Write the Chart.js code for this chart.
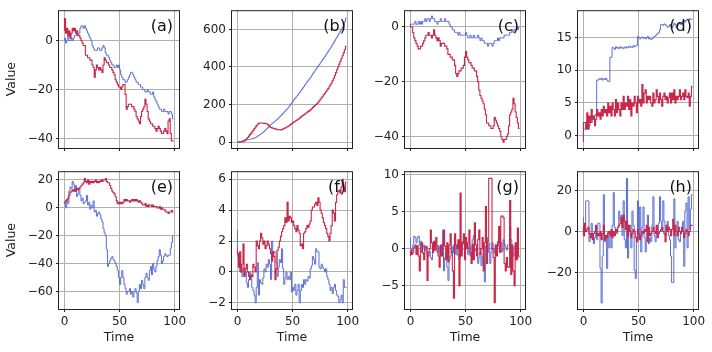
<!DOCTYPE html>
<html>
<head>
<meta charset="utf-8">
<script src="https://cdn.jsdelivr.net/npm/chart.js@4.4.0/dist/chart.umd.min.js"></script>
<style>
  html, body { margin: 0; padding: 0; background: #fff; }
  #fig { position: relative; width: 712px; height: 352px; overflow: hidden; }
  #fig canvas { position: absolute; }
</style>
</head>
<body>
<div id="fig"></div>
<script>
// time index, shared by every panel
const time = Array.from({length: 100}, (_, i) => i);
const xTicks = [0, 50, 100];
const panelLabels = ['(a)', '(b)', '(c)', '(d)', '(e)', '(f)', '(g)', '(h)'];

// (a)
const aBlue = [0,1,-1,0,2,0,0,1,0,1, 2,2,3,2,3,5,6,6,5,6, 5,4,3,2,1,0,-2,-3,-4,-4,
  -4,-3,-3,-4,-4,-3,-2,-3,-5,-6, -6,-7,-8,-9,-10,-10,-11,-11,-10,-11,
  -10,-12,-14,-15,-16,-16,-17,-17,-16,-15, -14,-13,-13,-14,-15,-16,-17,-17,-18,-18,
  -19,-19,-20,-20,-21,-21,-20,-21,-21,-22, -22,-21,-23,-24,-25,-26,-27,-28,-28,-29,
  -29,-28,-29,-29,-29,-30,-29,-29,-30,-32];
const aRed = [4,9,3,5,2,4,1,3,5,4, 5,3,4,2,2,1,0,-1,-2,-2, -6,-6,-7,-7,-8,-8,-10,-11,-15,-12,
  -10,-11,-12,-11,-12,-13,-10,-7,-8,-9, -9,-10,-11,-11,-12,-13,-14,-16,-17,-18,
  -19,-19,-20,-19,-18,-18,-22,-28,-27,-26, -26,-26,-27,-27,-28,-29,-31,-32,-33,-34,
  -31,-29,-28,-27,-24,-26,-29,-32,-33,-34, -34,-35,-35,-36,-37,-36,-35,-36,-37,-38,
  -38,-37,-36,-37,-38,-33,-32,-38,-41,-41];

// (b)
const bBlue = [0,1,2,3,4,5,10,10,11,12, 13,14,15,17,18,20,22,25,28,32, 36,40,44,48,53,58,64,70,76,82,
  88,94,99,104,108,113,118,123,129,135, 141,147,153,160,166,172,178,186,194,202,
  210,218,226,234,241,248,256,264,272,280, 288,296,305,314,322,330,337,345,355,364,
  372,380,389,398,406,414,422,431,440,448, 456,465,474,483,492,501,510,520,530,540,
  550,560,570,580,590,600,612,624,640,660];
const bRed = [0,0,0,1,2,3,5,8,12,18, 25,32,40,47,55,63,72,80,88,95, 100,102,102,102,101,100,100,98,94,88,
  82,78,76,74,72,70,68,67,66,66, 65,67,70,73,76,79,82,86,90,95,
  99,103,107,111,115,119,123,128,133,138, 142,146,150,155,160,164,168,172,178,185,
  190,195,200,206,212,220,228,236,244,252, 260,268,276,285,295,305,315,328,340,355,
  370,385,400,415,430,445,460,475,492,510];

// (c)
const cBlue = [0,1,1,1,1,2,1,1,2,1, 2,1,2,2,3,2,3,3,2,3, 4,3,3,2,2,1,2,2,3,2,
  2,2,3,2,2,2,1,0,0,-1, -1,-2,-2,-2,-3,-2,-3,-3,-3,-3,
  -3,-2,-3,-4,-4,-3,-4,-4,-3,-4, -4,-4,-3,-4,-5,-4,-5,-5,-6,-6,
  -6,-7,-6,-6,-6,-7,-6,-5,-5,-5, -4,-5,-4,-4,-4,-4,-3,-3,-3,-3,
  -3,-2,-2,-1,-2,-1,-1,0,-1,0];
const cRed = [1,0,0,-2,-4,-5,-6,-7,-8,-8, -7,-7,-6,-5,-4,-3,-3,-2,-3,-3, -4,-3,-1,-3,-4,-5,-4,-5,-7,-6,
  -6,-6,-7,-7,-8,-10,-10,-11,-11,-12, -12,-14,-17,-18,-17,-16,-16,-15,-15,-14,
  -11,-9,-11,-12,-13,-13,-14,-15,-15,-16, -16,-18,-20,-23,-25,-26,-27,-28,-30,-32,
  -35,-35,-36,-36,-37,-37,-36,-33,-34,-35, -36,-37,-38,-40,-41,-42,-41,-41,-40,-39,
  -36,-32,-31,-30,-26,-28,-31,-33,-35,-37];

// (d)
const dBlue = [0,1,1,1,1,1,1.5,2,2,2.5, 3,3,3.3,8.5,8.5,8.7,8.6,8.8,8.5,8.7,
  8.6,8.8,8.5,8.3,8.3,12,12,13.5,13.4,13.2, 13.6,13.4,13.5,13.3,13.6,13.4,13.5,13.3,13.5,13.6,
  13.4,13.5,13.7,13.5,13.6,13.5,13.8,13.6,13.7,13.8, 15.2,15,14.8,15,15.1,14.9,15,14.8,15,15.2,
  14.8,14.9,14.7,14.8,15,15.2,15.3,15.5,15.6,15.8, 16.2,17,17,16.9,17.1,17,16.8,16.6,16.7,17,
  16.8,16.5,16.8,17.2,17,16.5,16.8,17.1,17.3,17, 17.2,17.5,17.6,17.4,17.7,17.8,17.6,17.9,17.8,17.8];
const dRed = [-1,2,2,1,3.5,1,3,2,4,2.5, 3,1.5,2.5,4,3,3.5,2.5,4,3,4.5, 3.5,4,3,5,3.5,4.5,3,5,4,3,
  5.5,3.5,5,4,3,5,4,6,4,5, 4.5,6,4,5.5,3,5,4.5,6,5,3.5,
  6,5,5.5,4.5,7.8,5,6.5,7,5,6, 5.5,6,5,4.5,6.5,5,5.5,7,6,5,
  6.5,5.5,4.5,6,6.5,5.5,6,5,5.8,6.5, 5,6.5,5.5,7,5,6,5.5,6,7,5.5,
  6,6.5,5.5,7,6,5.8,6.5,4.5,6,7.5];

// (e)
const eBlue = [4,3,0,6,3,12,15,14,19,17, 12,16,8,10,14,9,5,7,3,4, 5,9,2,4,-1,2,0,5,-3,-2,
  -6,-4,-3,-5,-8,-10,-15,-18,-20,-30, -42,-40,-38,-36,-35,-37,-38,-40,-42,-45,
  -50,-55,-50,-45,-50,-55,-58,-62,-60,-60, -58,-62,-60,-64,-60,-58,-61,-68,-60,-55,
  -58,-52,-55,-58,-50,-47,-50,-52,-45,-42, -48,-40,-44,-46,-42,-38,-35,-30,-34,-40,
  -38,-35,-33,-34,-35,-34,-34,-29,-25,-20];
const eRed = [3,4,5,6,7,9,11,12,13,12, 13,12,14,13,14,15,16,17,18,21, 19,18,20,17,19,18,19,18,19,20,
  18,19,18,19,20,19,20,20,21,19, 18,18,16,14,12,11,10,8,5,3,
  4,3,4,3,4,6,5,6,5,5, 4,5,6,5,6,5,6,5,4,5,
  4,3,2,2,3,1,2,1,2,2, 1,2,1,1,1,0,0,1,-1,0,
  -1,-1,-2,-3,-3,-4,-3,-3,-2,-3];

// (f)
const fBlue = [2.7,1,1,0,0.2,-0.3,0.3,-0.2,0,-0.7, -1,-0.5,0,-0.3,-1,-1.2,-1.5,-2,-1,0.6,
  -1.5,-0.5,-0.7,-0.8,-0.4,0.2,0,0.5,0.3,0.8, 0.5,-0.5,2,1.2,1.3,1.3,0.6,-0.3,0.3,0.8,
  0.6,1.5,0.2,-0.8,-0.4,0,-0.5,-0.3,-0.5,0, -1.3,-1,-1.2,-0.8,-1.5,-1.2,-0.8,-2,-1.2,-0.8,
  -1,-0.5,-0.8,-0.5,-0.6,-0.3,-0.4,0.2,0.4,1, 0.8,0.5,1.5,1.3,1.3,0.3,0.2,0.5,0.3,0.2,
  0,0.2,-0.3,-0.5,-0.8,-1.2,-1,-1.4,-1,-0.8, -1.2,-1.5,-1.6,-2,-1.8,-1.5,-2,-0.5,-1,-1];
const fRed = [1.5,1.2,0.3,1.3,0,0.5,1.8,-0.3,0.2,0.5, 0,-0.3,-0.5,-0.2,-0.3,0.5,0.3,0,2,1.7,
  1.5,2,2.5,2.2,1.8,2,1.5,1.7,2,1.8, 1.5,1.2,0.7,1.3,1,-0.5,0.2,1.4,1.6,2,
  2.3,2.6,2.8,3,3.5,3.2,4.5,3.3,3.6,3.5, 3.2,3.3,3,2.8,2.6,3,2.7,2.5,1.7,1.8,
  1.5,2.5,2.6,2.8,3,2.9,3.1,3.3,4,4.2, 4.2,4.4,4.5,4.3,4.8,4.5,4,3.8,3.5,3.2,
  3,2.8,2.5,2.3,2,2.5,3,4,3.8,3.3, 4.5,5,5.2,5.3,5.1,5.5,6,5.4,5.2,5.8];

// (g)
const gBlue = [1.5,0,-0.3,0.5,1.7,1.5,0.8,1.5,1.7,0.5, 1,-0.5,0.2,0.5,-0.3,0.2,-0.8,-1,-0.4,-1.2,
  -1.5,-0.3,0,0.6,0.2,-0.5,0.3,-0.8,0.2,-1, 2.5,-3,-1.2,-0.5,-2.5,-4.3,-1.5,-1,0.3,-0.6,
  0.5,1.2,-0.8,0.2,-1,-1.5,0.5,-0.3,1,0.6, -0.5,0.4,0.2,-0.8,0.6,-1,0.2,1.2,1.8,-0.3,
  0,-0.5,-2,-1.2,-0.6,-2.3,-1,-1.8,-4.5,0.4, 1.5,-0.5,0.8,-2,-0.5,0.8,0,-0.6,0.5,-0.3,
  1,0.3,-0.5,0.8,-0.4,1.2,0.6,0.2,-0.2,0.5, 0.5,3,1.2,-0.5,-1,0.2,0.5,-0.6,-1.2,-1.1];
const gRed = [-1,-0.3,-0.8,-0.5,0.2,0.5,-0.8,0.4,-1,-3, 0.5,0.8,-0.6,-1.5,0.2,0.3,-4.3,-0.5,0,2.5,
  0.8,-0.5,1,-0.2,1.5,0.4,-1,-2.5,0.5,-1, 0.6,2.5,0.3,-1.5,0.8,-1.8,0.5,2,-0.5,-3,
  -6.7,2,0.5,0,1.2,-5,7.5,-1,0.8,2, -1.5,1.5,0,0.8,2.5,-0.5,-2,0.6,-1.5,3.5,
  0.5,-1,1.2,2.5,-0.8,0,1.5,-3,0.8,5.7, -2,1,9.5,9.5,9.5,0,-1.2,-7.3,0.5,-1,
  0.8,3,-0.5,4.4,4.4,4.2,-2,-3,-1.2,-2.5, -2.5,6.5,-3.5,0.5,-3,-5,0.8,-1.5,2.8,-1];

// (h)
const hBlue = [7,-2,4,15,15,15,-5,-3,4,-2, -6,-3,0,-4,4,4,-18,-35,-12,18, -5,-3,-18,0,-8,-2,-8,3,19,2,
  0,-1,2,10,5,8,-2,15,-4,-8, 26,-13,0,3,-8,10,3,-19,-23,-5,
  15,-4,12,-10,2,12,-3,-10,0,8, -6,-3,-5,3,17,-2,-5,2,-1,4,
  17,5,0,15,5,-2,3,5,-2,-4, -12,-25,-25,16,-8,0,5,-4,-5,0,
  2,5,-17,10,14,-8,17,1,11,18];
const hRed = [3,-2,4,0,1,2,-1,-3,-1,-4, -1,0,3,-2,-1,-2,0,-4,-1,3, -4,-2,-3,-1,0,-2,1,-3,0,-2,
  1,0,2,3,4,7,2,8,5,1, 5,-2,3,0,-3,-1,1,0,-3,-5,
  1,-1,-4,-2,0,-1,1,0,3,-5, 2,-2,-1,0,2,0,-1,3,-3,-1,
  0,1,2,0,-1,-5,3,0,2,1, -2,1,6,-2,3,0,-2,2,0,-1,
  2,0,-3,-1,1,0,-2,0,3,3];

const blueSeries = [aBlue, bBlue, cBlue, dBlue, eBlue, fBlue, gBlue, hBlue];
const redSeries = [aRed, bRed, cRed, dRed, eRed, fRed, gRed, hRed];
const yTicks = [[0, -20, -40], [0, 200, 400, 600], [0, -20, -40], [0, 5, 10, 15],
  [20, 0, -20, -40, -60], [6, 4, 2, 0, -2], [10, 5, 0, -5], [20, 0, -20]];
const yLimits = [[-43.9, 12.4], [-31, 702], [-44.1, 6.1], [-1.9, 19.2],
  [-72.6, 26.3], [-2.4, 6.52], [-8.16, 10.47], [-37.9, 29.5]];

const BLUE = '#5a6ed2';
const RED = '#c8284a';
const boxLefts = [59, 232, 405, 578];
const boxTops = [6, 167];
const boxW = 120, boxH = 142;
const padL = 59, padT = 6, padR = 14;

Chart.defaults.font.family = '"DejaVu Sans", sans-serif';
Chart.defaults.color = '#222';

const minusFix = v => String(v).replace('-', '\u2212');

const framePlugin = {
  id: 'frame',
  afterDatasetsDraw(chart, args, opts) {
    const {ctx, chartArea: a} = chart;
    ctx.save();
    ctx.strokeStyle = '#222';
    ctx.lineWidth = 1;
    ctx.strokeRect(a.left - 0.5, a.top + 0.5, a.width + 1, a.height);
    ctx.font = '16px "DejaVu Sans"';
    ctx.fillStyle = '#111';
    ctx.textAlign = 'right';
    ctx.textBaseline = 'middle';
    ctx.fillText(opts.text, a.right - 6, a.top + 16.5);
    ctx.restore();
  }
};

const fig = document.getElementById('fig');

panelLabels.forEach((lbl, i) => {
  const col = i % 4, row = Math.floor(i / 4);
  const bottomRow = row === 1;
  const cv = document.createElement('canvas');
  const w = padL + boxW + padR;
  const h = bottomRow ? 352 - (boxTops[1] - padT) : padT + boxH + 12;
  cv.width = w; cv.height = h;
  cv.style.left = (boxLefts[col] - padL) + 'px';
  cv.style.top = (boxTops[row] - padT) + 'px';
  cv.style.width = w + 'px'; cv.style.height = h + 'px';
  fig.appendChild(cv);

  new Chart(cv.getContext('2d'), {
    type: 'line',
    data: {
      datasets: [
        {
          data: time.map((t, k) => ({x: t, y: redSeries[i][k]})),
          borderColor: RED, borderWidth: 1.1, order: 1
        },
        {
          data: time.map((t, k) => ({x: t, y: blueSeries[i][k]})),
          borderColor: BLUE, borderWidth: 1, order: 2
        }
      ]
    },
    options: {
      responsive: false,
      animation: false,
      events: [],
      layout: { autoPadding: false, padding: { left: 0, top: padT, right: padR, bottom: 0 } },
      elements: {
        point: { radius: 0 },
        line: { stepped: 'after', tension: 0, fill: false }
      },
      plugins: { legend: { display: false }, tooltip: { enabled: false }, frame: { text: lbl } },
      scales: {
        x: {
          type: 'linear', min: -4.95, max: 103.95,
          afterBuildTicks: ax => { ax.ticks = xTicks.map(v => ({value: v})); },
          afterFit: s => { s.height = h - padT - boxH; },
          grid: { color: '#b0b0b0', tickColor: '#222', tickLength: 3 },
          border: { display: false },
          ticks: { display: bottomRow, padding: 3, maxRotation: 0, autoSkip: false, font: { size: 12 } },
          title: { display: bottomRow, text: 'Time', font: { size: 12.5 }, padding: { top: 0, bottom: 7 } }
        },
        y: {
          type: 'linear', min: yLimits[i][0], max: yLimits[i][1],
          afterBuildTicks: ax => { ax.ticks = yTicks[i].map(v => ({value: v})); },
          afterFit: s => { s.width = padL; },
          grid: { color: '#b0b0b0', tickColor: '#222', tickLength: 3 },
          border: { display: false },
          ticks: { padding: 3, font: { size: 12 }, callback: minusFix },
          title: { display: col === 0, text: 'Value', font: { size: 12.5 }, padding: { top: 4.5, bottom: 0 } }
        }
      }
    },
    plugins: [framePlugin]
  });
});
</script>
</body>
</html>
